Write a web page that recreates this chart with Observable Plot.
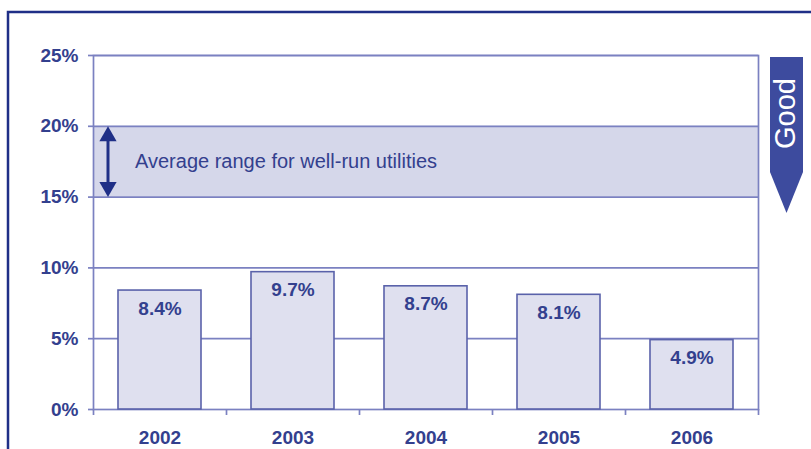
<!DOCTYPE html>
<html>
<head>
<meta charset="utf-8">
<script src="https://cdn.jsdelivr.net/npm/d3@7"></script>
<script src="https://cdn.jsdelivr.net/npm/@observablehq/plot@0.6"></script>
<style>
  html, body { margin: 0; padding: 0; background: #fff; }
  #chart { position: relative; width: 811px; height: 449px; overflow: hidden; }
</style>
</head>
<body>
<div id="chart"></div>
<script>
const years = ["2002", "2003", "2004", "2005", "2006"];
const values = [8.4, 9.7, 8.7, 8.1, 4.9];
const yTicks = [0, 5, 10, 15, 20, 25];
const gridTicks = [5, 10, 15, 20, 25];
const rangeLow = 15;
const rangeHigh = 20;
const rangeLabel = "Average range for well-run utilities";
const badgeLabel = "Good";

const data = years.map((year, i) => ({year, value: values[i]}));

const W = 811, H = 449;
const ml = 93, mr = 53, mt = 55, mb = 40;
const step = (W - ml - mr) / years.length;

const navy = "#1f2f87";
const labelColor = "#33408e";
const gridColor = "#7b81c1";
const barStroke = "#5a62aa";
const barFill = "#dfe0ef";
const bandFill = "#d5d7ea";
const font = "Liberation Sans, Arial, sans-serif";

function decorations() {
  const g = d3.create("svg:g");
  // outer frame (left + top)
  g.append("path")
    .attr("d", `M8,${H + 5} L8,12 L${W + 5},12`)
    .attr("fill", "none").attr("stroke", navy).attr("stroke-width", 2.5);
  // "Good" badge arrow
  const bx0 = W - mr + 12, bx1 = bx0 + 33, by0 = 57, by1 = 172, by2 = 213;
  g.append("path")
    .attr("d", `M${bx0},${by0} L${bx1},${by0} L${bx1},${by1} L${(bx0 + bx1) / 2},${by2} L${bx0},${by1} Z`)
    .attr("fill", "#3d4b9e");
  g.append("text")
    .attr("transform", `translate(${(bx0 + bx1) / 2 + 8.5},${(by0 + by1) / 2 - 1}) rotate(-90)`)
    .attr("text-anchor", "middle")
    .attr("fill", "#fff")
    .attr("font-family", font)
    .attr("font-size", 29)
    .text(badgeLabel);
  return g.node();
}

const chart = Plot.plot({
  width: W,
  height: H,
  marginLeft: ml,
  marginRight: mr,
  marginTop: mt,
  marginBottom: mb,
  style: {fontFamily: font, background: "transparent", overflow: "visible"},
  x: {type: "band", domain: years, paddingInner: 0.375, paddingOuter: 0.1875, axis: null, label: null},
  y: {domain: [0, 25], axis: null, label: null},
  marks: [
    Plot.rect([0], {y1: rangeLow, y2: rangeHigh, fill: bandFill}),
    Plot.ruleY(gridTicks, {stroke: gridColor, strokeWidth: 1.7}),
    Plot.frame({stroke: gridColor, strokeWidth: 1.7}),
    Plot.axisY(yTicks, {
      label: null,
      tickSize: 5, tickPadding: 10, tickFormat: d => d + "%",
      stroke: gridColor, strokeWidth: 1.7, fill: labelColor,
      fontSize: 19, fontWeight: "bold"
    }),
    Plot.axisX(years, {label: null, tickSize: 6, tickFormat: () => "", dx: -step / 2, stroke: gridColor, strokeWidth: 1.7}),
    Plot.axisX([years[years.length - 1]], {label: null, tickSize: 6, tickFormat: () => "", dx: step / 2, stroke: gridColor, strokeWidth: 1.7}),
    Plot.axisX(years, {label: null, tickSize: 0, tickPadding: 21, fill: labelColor, fontSize: 19, fontWeight: "bold"}),
    Plot.barY(data, {x: "year", y: "value", fill: barFill, stroke: barStroke, strokeWidth: 1.6}),
    Plot.text(data, {x: "year", y: "value", text: d => d.value.toFixed(1) + "%", dy: 18, fill: labelColor, fontSize: 19, fontWeight: "bold"}),
    // double-headed range arrow
    Plot.ruleX([years[0]], {x: d => d, y1: rangeLow + 0.6, y2: rangeHigh - 0.6, dx: -52, stroke: navy, strokeWidth: 3}),
    Plot.dot([years[0]], {x: d => d, y: rangeHigh, symbol: "triangle", r: 6.4, dx: -52, dy: 10, fill: navy, stroke: null}),
    Plot.dot([years[0]], {x: d => d, y: rangeLow, symbol: "triangle", r: 6.4, rotate: 180, dx: -52, dy: -10, fill: navy, stroke: null}),
    Plot.text([rangeLabel], {x: () => years[0], y: (rangeLow + rangeHigh) / 2, text: d => d, textAnchor: "start", dx: -25, fill: labelColor, fontSize: 20}),
    decorations
  ]
});

document.getElementById("chart").appendChild(chart);
</script>
</body>
</html>
